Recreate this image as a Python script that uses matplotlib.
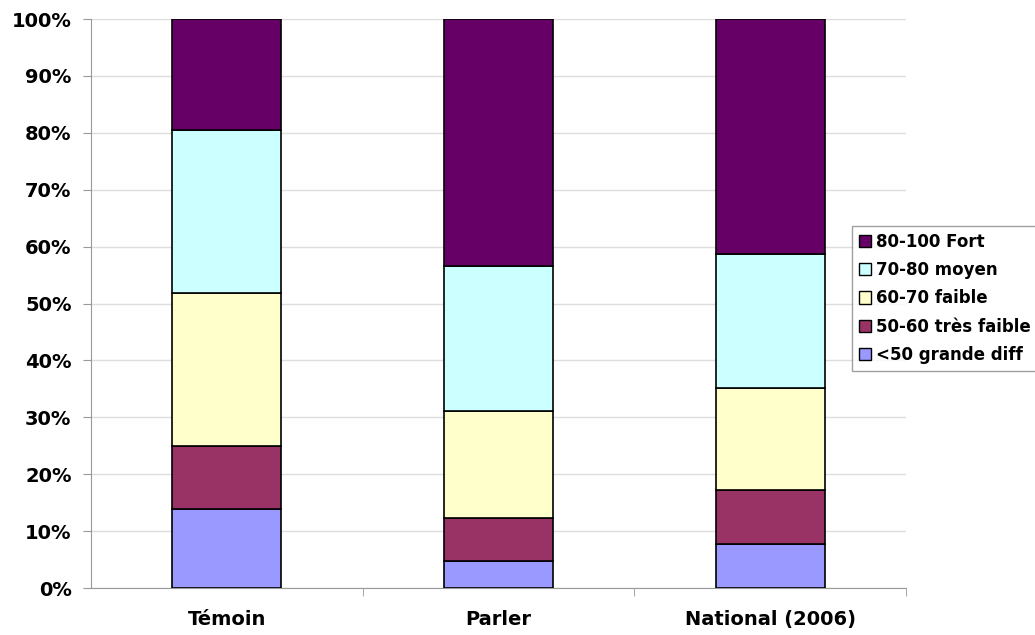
import numpy as np
import matplotlib.pyplot as plt
from matplotlib.patches import Patch

plt.rcParams['font.family'] = ['DejaVu Sans']
plt.rcParams['font.weight'] = 'bold'

categories = ['Témoin', 'Parler', 'National (2006)']
classes = ['<50 grande diff', '50-60 très faible', '60-70 faible', '70-80 moyen', '80-100 Fort']
lt50 = [13.9, 4.7, 7.7]
c50_60 = [11.1, 7.6, 9.5]
c60_70 = [26.8, 18.8, 17.9]
c70_80 = [28.7, 25.5, 23.6]
c80_100 = [19.5, 43.4, 41.3]
colors = ['#9999FF', '#993366', '#FFFFCC', '#CCFFFF', '#660066']

series = [lt50, c50_60, c60_70, c70_80, c80_100]

fig = plt.figure(figsize=(10.35, 6.35), dpi=100)
ax = fig.add_axes([0.0879, 0.074, 0.7875, 0.896])

x = np.arange(len(categories))
bottom = np.zeros(len(categories))
for vals, col in zip(series, colors):
    ax.bar(x, vals, 0.4, bottom=bottom, color=col, edgecolor='black', linewidth=1.2, zorder=3)
    bottom += np.array(vals)

ax.set_xlim(-0.5, 2.5)
ax.set_ylim(0, 100)
ax.set_yticks(np.arange(0, 101, 10))
ax.set_yticklabels([f'{v}%' for v in range(0, 101, 10)], fontsize=14, fontweight='bold')
ax.set_xticks(x)
ax.set_xticklabels(categories, fontsize=14, fontweight='bold')
ax.tick_params(axis='x', length=0, pad=16)
ax.set_xticks([0.5, 1.5, 2.5], minor=True)
ax.tick_params(axis='x', which='minor', length=6, color='#999999')
ax.tick_params(axis='y', length=6, color='#999999', pad=8)
ax.yaxis.grid(True, color='#dddddd', linewidth=1, zorder=0)
ax.set_axisbelow(True)
for s in ['top', 'right']:
    ax.spines[s].set_visible(False)
for s in ['left', 'bottom']:
    ax.spines[s].set_color('#999999')

handles = [Patch(facecolor=c, edgecolor='black', label=l) for c, l in zip(colors, classes)][::-1]
leg = fig.legend(handles=handles, loc='upper left', bbox_to_anchor=(852 / 1035, 1 - 226 / 635),
                 prop={'size': 12, 'weight': 'bold'}, frameon=True, fancybox=False,
                 handlelength=0.75, handleheight=0.75, handletextpad=0.3,
                 labelspacing=0.62, borderpad=0.4, borderaxespad=0)
leg.get_frame().set_edgecolor('#888888')
leg.get_frame().set_linewidth(1)

fig.savefig('out.png', dpi=100)
